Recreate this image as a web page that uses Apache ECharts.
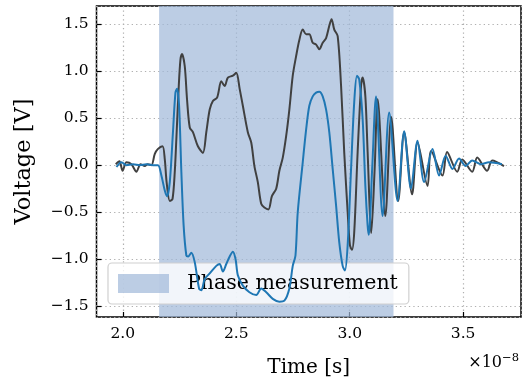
<!DOCTYPE html>
<html>
<head>
<meta charset="utf-8">
<script src="https://cdn.jsdelivr.net/npm/echarts@6/dist/echarts.min.js"></script>
<style>
html,body{margin:0;padding:0;background:#fff;}
#chart{width:524px;height:383px;}
</style>
</head>
<body>
<div id="chart"></div>
<script>
// Time values in units of 1e-8 s
const timeDark = [1.969,1.985,1.999,2.016,2.038,2.060,2.078,2.097,2.110,2.126,2.141,2.154,2.175,2.185,2.193,2.207,2.219,2.229,2.236,2.246,2.254,2.261,2.273,2.283,2.295,2.309,2.331,2.353,2.368,2.383,2.397,2.416,2.434,2.449,2.463,2.485,2.500,2.515,2.529,2.551,2.566,2.580,2.595,2.610,2.624,2.642,2.657,2.676,2.690,2.705,2.720,2.734,2.749,2.764,2.778,2.793,2.808,2.822,2.837,2.852,2.866,2.881,2.896,2.910,2.920,2.932,2.947,2.962,2.976,2.991,3.001,3.010,3.020,3.035,3.050,3.057,3.069,3.079,3.095,3.110,3.123,3.157,3.183,3.214,3.240,3.275,3.299,3.343,3.359,3.409,3.429,3.474,3.496,3.540,3.562,3.606,3.628,3.680];
const voltDark = [0.01,0.04,-0.06,0.03,0.01,-0.07,0.01,-0.01,0.01,0.00,0.12,0.17,0.20,0.06,-0.18,-0.38,-0.36,-0.07,0.28,0.81,1.12,1.18,1.05,0.70,0.40,0.35,0.20,0.13,0.35,0.59,0.68,0.72,0.89,0.84,0.93,0.95,0.98,0.81,0.63,0.35,0.24,-0.01,-0.18,-0.41,-0.45,-0.47,-0.33,-0.25,-0.06,0.08,0.31,0.59,0.95,1.16,1.33,1.44,1.39,1.39,1.30,1.28,1.23,1.30,1.35,1.48,1.55,1.44,1.37,0.84,0.13,-0.50,-0.85,-0.90,-0.71,0.14,0.84,0.93,0.73,0.14,-0.72,-0.04,0.70,-0.54,0.51,-0.38,0.35,-0.31,0.24,-0.22,0.15,-0.11,0.14,-0.07,0.06,-0.07,0.08,-0.06,0.05,-0.01];
const timeBlue = [1.972,1.994,2.016,2.045,2.075,2.104,2.133,2.155,2.170,2.185,2.195,2.207,2.221,2.232,2.239,2.248,2.258,2.268,2.280,2.288,2.302,2.317,2.336,2.346,2.361,2.383,2.412,2.427,2.441,2.456,2.471,2.485,2.497,2.507,2.529,2.558,2.588,2.610,2.632,2.661,2.690,2.712,2.734,2.749,2.761,2.771,2.793,2.808,2.822,2.837,2.852,2.866,2.881,2.896,2.910,2.925,2.940,2.954,2.969,2.979,2.991,3.006,3.020,3.032,3.042,3.057,3.069,3.079,3.084,3.099,3.116,3.145,3.174,3.211,3.240,3.270,3.299,3.328,3.365,3.394,3.423,3.453,3.482,3.511,3.540,3.577,3.614,3.671];
const voltBlue = [-0.02,0.03,0.00,0.01,0.00,0.01,0.00,0.00,-0.11,-0.27,-0.33,-0.18,0.35,0.77,0.81,0.63,-0.07,-0.64,-0.96,-0.97,-0.93,-1.03,-1.31,-1.33,-1.21,-1.15,-1.07,-1.05,-1.13,-1.05,-0.97,-0.92,-1.00,-1.17,-1.28,-1.35,-1.38,-1.31,-1.35,-1.42,-1.45,-1.44,-1.31,-1.07,-0.96,-0.50,0.03,0.38,0.63,0.73,0.77,0.78,0.73,0.59,0.35,-0.04,-0.43,-0.82,-1.07,-1.12,-0.85,-0.04,0.67,0.95,0.91,0.49,-0.22,-0.64,-0.74,-0.04,0.73,-0.54,0.56,-0.38,0.36,-0.25,0.26,-0.18,0.17,-0.11,0.10,-0.04,0.07,-0.01,0.05,0.01,0.03,0.01];
const phaseWindow = [2.16, 3.193];
const xTickValues = [2.0, 2.5, 3.0, 3.5];
const yTickValues = [-1.5, -1.0, -0.5, 0.0, 0.5, 1.0, 1.5];
const legendName = 'Phase measurement';

const FONT = 'DejaVu Serif';
const isTick = (arr, v) => arr.some(t => Math.abs(t - v) < 1e-6);
const pair = (xs, ys) => xs.map((x, i) => [x, ys[i]]);
const shade = 'rgba(160,184,216,0.7)';

const chart = echarts.init(document.getElementById('chart'), null, {renderer: 'canvas'});
chart.setOption({
  animation: false,
  backgroundColor: '#fff',
  grid: {left: 96.5, right: 3, top: 6, bottom: 65, show: true, borderColor: '#000', borderWidth: 1.5, backgroundColor: 'transparent'},
  xAxis: {
    type: 'value', min: 1.884, max: 3.755, splitNumber: 4,
    name: 'Time [s]', nameLocation: 'middle', nameGap: 41,
    nameTextStyle: {fontFamily: FONT, fontSize: 20, color: '#000'},
    axisLine: {show: false, onZero: false},
    axisTick: {show: true, inside: true, length: 5, lineStyle: {color: '#000', width: 1.2}},
    axisLabel: {margin: 9, fontFamily: FONT, fontSize: 15.5, color: '#000', showMinLabel: false, showMaxLabel: false,
      formatter: v => isTick(xTickValues, v) ? v.toFixed(1) : ''},
    splitLine: {show: true, lineStyle: {color: '#b0b0b0', width: 1.2, type: [1.3, 3.1]}}
  },
  yAxis: {
    type: 'value', min: -1.613, max: 1.69, splitNumber: 7,
    name: 'Voltage [V]', nameLocation: 'middle', nameGap: 61, nameRotate: 90,
    nameTextStyle: {fontFamily: FONT, fontSize: 22.5, color: '#000'},
    axisLine: {show: false, onZero: false},
    axisTick: {show: true, inside: true, length: 5, lineStyle: {color: '#000', width: 1.2}},
    axisLabel: {margin: 8, fontFamily: FONT, fontSize: 15.5, color: '#000', showMinLabel: false, showMaxLabel: false,
      formatter: v => isTick(yTickValues, v) ? v.toFixed(1).replace('-', '\u2212') : ''},
    splitLine: {show: true, lineStyle: {color: '#b0b0b0', width: 1.2, type: [1.3, 3.1]}}
  },
  legend: {
    left: 108, top: 263,
    data: [{name: legendName, icon: 'rect', itemStyle: {color: shade}}],
    itemWidth: 51, itemHeight: 19,
    padding: [10, 11, 10, 10],
    backgroundColor: 'rgba(255,255,255,0.8)',
    borderColor: '#d0d0d0', borderWidth: 1.2, borderRadius: 4,
    textStyle: {fontFamily: FONT, fontSize: 20.5, color: '#000', padding: [0, 0, 0, 13]}
  },
  title: {
    text: '{a|\u00d710}{b|\u22128}',
    right: 0, top: 347,
    textStyle: {fontWeight: 'normal', rich: {
      a: {fontFamily: FONT, fontSize: 16, fontWeight: 'normal', color: '#000'},
      b: {fontFamily: FONT, fontSize: 11.5, fontWeight: 'normal', color: '#000', padding: [0, 0, 9, 0]}
    }}
  },
  series: [
    {
      name: legendName, type: 'line', data: [], z: 1,
      itemStyle: {color: shade},
      markArea: {silent: true, itemStyle: {color: shade}, data: [[{xAxis: phaseWindow[0]}, {xAxis: phaseWindow[1]}]]}
    },
    {
      name: 'Channel A', type: 'line', data: pair(timeDark, voltDark), showSymbol: false, smooth: 0.3, z: 3,
      lineStyle: {color: '#404040', width: 2}, itemStyle: {color: '#404040'}
    },
    {
      name: 'Channel B', type: 'line', data: pair(timeBlue, voltBlue), showSymbol: false, smooth: 0.3, z: 4,
      lineStyle: {color: '#1f77b4', width: 2}, itemStyle: {color: '#1f77b4'}
    }
  ]
});
</script>
</body>
</html>
